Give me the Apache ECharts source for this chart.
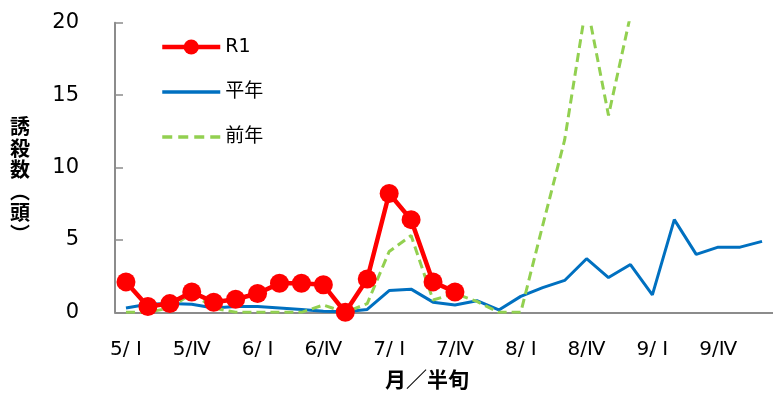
<!DOCTYPE html>
<html>
<head>
<meta charset="utf-8">
<script src="https://cdn.jsdelivr.net/npm/echarts@6/dist/echarts.min.js"></script>
<style>
  html, body { margin: 0; padding: 0; background: #fff; }
  #chart { width: 773px; height: 397px; }
</style>
</head>
<body>
<div id="chart"></div>
<script>
// 半旬ごとのカテゴリ（5月〜9月）
var categories = [
  '5/ Ⅰ', '5/Ⅱ', '5/Ⅲ', '5/Ⅳ', '5/Ⅴ', '5/Ⅵ',
  '6/ Ⅰ', '6/Ⅱ', '6/Ⅲ', '6/Ⅳ', '6/Ⅴ', '6/Ⅵ',
  '7/ Ⅰ', '7/Ⅱ', '7/Ⅲ', '7/Ⅳ', '7/Ⅴ', '7/Ⅵ',
  '8/ Ⅰ', '8/Ⅱ', '8/Ⅲ', '8/Ⅳ', '8/Ⅴ', '8/Ⅵ',
  '9/ Ⅰ', '9/Ⅱ', '9/Ⅲ', '9/Ⅳ', '9/Ⅴ', '9/Ⅵ'
];
// R1
var r1Values = [2.1, 0.4, 0.6, 1.4, 0.7, 0.9, 1.3, 2.0, 2.0, 1.9, 0.0, 2.3, 8.2, 6.4, 2.1, 1.4];
// 平年
var normalValues = [0.3, 0.55, 0.6, 0.55, 0.3, 0.4, 0.4, 0.3, 0.2, 0.07, 0.03, 0.2, 1.5, 1.6, 0.7, 0.5,
  0.8, 0.16, 1.1, 1.7, 2.2, 3.7, 2.4, 3.3, 1.2, 6.4, 4.0, 4.5, 4.5, 4.9];
// 前年
var lastYearValues = [0, 0, 0.3, 1.3, 0.3, 0, 0, 0, 0, 0.5, 0, 0.6, 4.2, 5.3, 0.85, 1.3,
  0.75, 0, 0, 6.0, 11.9, 21.4, 13.6, 20.5];
var yTicks = [0, 5, 10, 15, 20];

var font = 'DejaVu Sans, "Noto Sans CJK JP", sans-serif';
var axisGray = '#8c8c8c';

var myChart = echarts.init(document.getElementById('chart'));

var option = {
  backgroundColor: '#fff',
  animation: false,
  textStyle: { fontFamily: font, color: '#000' },
  grid: { left: 115, right: 0, top: 22.7, bottom: 84.7, containLabel: false },
  legend: {
    orient: 'vertical',
    left: 160,
    top: 37,
    padding: 0,
    itemWidth: 58,
    itemHeight: 19,
    itemGap: 25,
    textStyle: { fontFamily: font, fontSize: 19, lineHeight: 20, color: '#000' },
    data: [
      { name: 'R1', lineStyle: { width: 4.5 } },
      // 線だけ（記号なし）
      { name: '平年', itemStyle: { opacity: 0 }, lineStyle: { width: 3.5 } },
      { name: '前年', itemStyle: { opacity: 0 }, lineStyle: { width: 3.5, type: [10, 6] } }
    ]
  },
  xAxis: {
    type: 'category',
    data: categories,
    boundaryGap: true,
    axisLine: { lineStyle: { color: axisGray, width: 2 } },
    axisTick: { inside: true, length: 8, interval: 0, lineStyle: { color: axisGray, width: 1.5 } },
    axisLabel: { interval: 2, margin: 27, fontSize: 20, color: '#000', fontFamily: font },
    splitLine: { show: false }
  },
  yAxis: {
    type: 'value',
    min: yTicks[0],
    max: yTicks[yTicks.length - 1],
    interval: 5,
    axisLine: { show: true, lineStyle: { color: axisGray, width: 2 } },
    axisTick: { show: true, inside: true, length: 8, lineStyle: { color: axisGray, width: 1.5 } },
    axisLabel: { margin: 36, fontSize: 21, color: '#000', fontFamily: font },
    splitLine: { show: false }
  },
  graphic: [
    {
      type: 'text',
      left: 10,
      top: 116,
      style: {
        text: ['誘', '殺', '数', '︵', '頭', '︶'].join('\n'),
        font: 'bold 20px "Noto Sans CJK JP", sans-serif',
        lineHeight: 21.5,
        fill: '#000'
      }
    },
    {
      type: 'text',
      left: 385,
      top: 369,
      style: {
        text: '月／半旬',
        font: 'bold 21px "Noto Sans CJK JP", sans-serif',
        fill: '#000'
      }
    }
  ],
  series: [
    {
      name: '平年',
      type: 'line',
      data: normalValues,
      symbol: 'none',
      z: 2,
      lineStyle: { color: '#0070C0', width: 3 },
      itemStyle: { color: '#0070C0' }
    },
    {
      name: '前年',
      type: 'line',
      data: lastYearValues,
      symbol: 'none',
      z: 3,
      lineStyle: { color: '#92D050', width: 3, type: [9, 5] },
      itemStyle: { color: '#92D050' }
    },
    {
      name: 'R1',
      type: 'line',
      data: r1Values,
      symbol: 'circle',
      symbolSize: 19,
      showAllSymbol: true,
      z: 4,
      lineStyle: { color: '#FF0000', width: 4.5 },
      itemStyle: { color: '#FF0000' }
    }
  ]
};

myChart.setOption(option);
</script>
</body>
</html>
